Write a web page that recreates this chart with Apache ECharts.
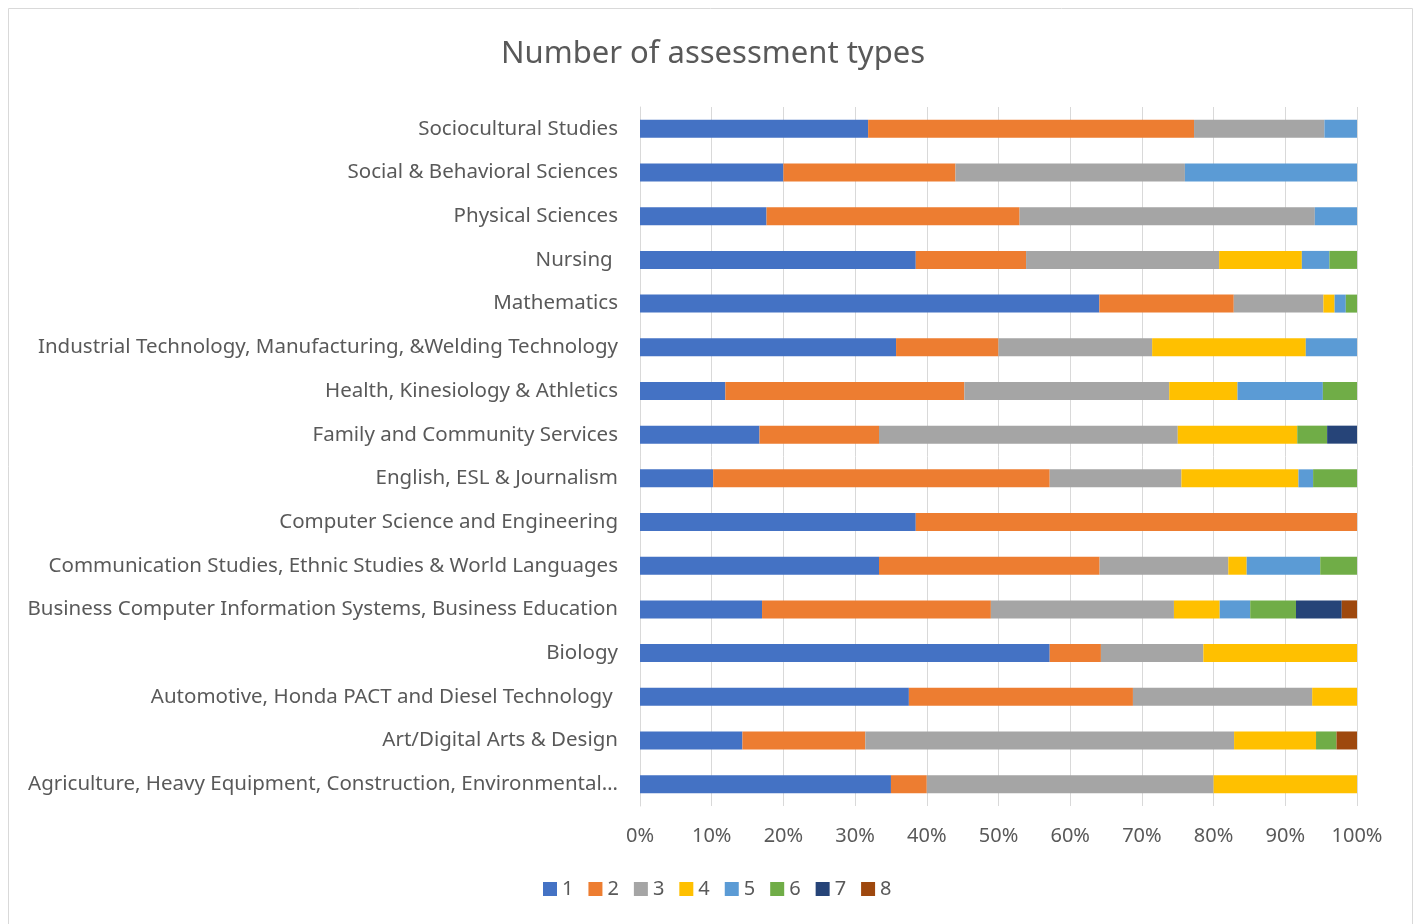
<!DOCTYPE html>
<html>
<head>
<meta charset="utf-8">
<title>Number of assessment types</title>
<script src="https://cdn.jsdelivr.net/npm/echarts@6/dist/echarts.min.js"></script>
<style>
  html, body { margin: 0; padding: 0; background: #fff; }
  #main { width: 1416px; height: 924px; }
</style>
</head>
<body>
<div id="main"></div>
<script>
// categories, bottom to top (as the value axis draws them)
const categories = [
  'Agriculture, Heavy Equipment, Construction, Environmental…',
  'Art/Digital Arts & Design',
  'Automotive, Honda PACT and Diesel Technology ',
  'Biology',
  'Business Computer Information Systems, Business Education',
  'Communication Studies, Ethnic Studies & World Languages',
  'Computer Science and Engineering',
  'English, ESL & Journalism',
  'Family and Community Services',
  'Health, Kinesiology & Athletics',
  'Industrial Technology, Manufacturing, &Welding Technology',
  'Mathematics',
  'Nursing ',
  'Physical Sciences',
  'Social & Behavioral Sciences',
  'Sociocultural Studies'
];

// counts per assessment-type count (1..8), same order as categories
const s1 = [7, 5, 6, 8, 8, 13, 5, 5, 4, 5, 5, 41, 10, 3, 5, 7];
const s2 = [1, 6, 5, 1, 15, 12, 8, 23, 4, 14, 2, 12, 4, 6, 6, 10];
const s3 = [8, 18, 4, 2, 12, 7, 0, 9, 10, 12, 3, 8, 7, 7, 8, 4];
const s4 = [4, 4, 1, 3, 3, 1, 0, 8, 4, 4, 3, 1, 3, 0, 0, 0];
const s5 = [0, 0, 0, 0, 2, 4, 0, 1, 0, 5, 1, 1, 1, 1, 6, 1];
const s6 = [0, 1, 0, 0, 3, 2, 0, 3, 1, 2, 0, 1, 1, 0, 0, 0];
const s7 = [0, 0, 0, 0, 3, 0, 0, 0, 1, 0, 0, 0, 0, 0, 0, 0];
const s8 = [0, 1, 0, 0, 1, 0, 0, 0, 0, 0, 0, 0, 0, 0, 0, 0];

const seriesNames = ['1', '2', '3', '4', '5', '6', '7', '8'];
const colors = ['#4472C4', '#ED7D31', '#A5A5A5', '#FFC000', '#5B9BD5', '#70AD47', '#264478', '#9E480E'];

const allSeries = [s1, s2, s3, s4, s5, s6, s7, s8];
// 100% stacked: share of each row total
const totals = categories.map((c, i) => allSeries.reduce((sum, s) => sum + s[i], 0));

const FONT = 'Noto Sans';
const TEXT = '#595959';

let myChart = echarts.init(document.getElementById('main'));
let option = {
  animation: false,
  color: colors,
  textStyle: { fontFamily: FONT },
  title: {
    text: 'Number of assessment types',
    left: 708,
    textAlign: 'center',
    top: 34,
    textStyle: { fontFamily: FONT, fontSize: 31, fontWeight: 'normal', color: TEXT }
  },
  graphic: [{
    type: 'rect',
    shape: { x: 8.5, y: 8.5, width: 1404, height: 950 },
    style: { fill: 'none', stroke: '#d9d9d9', lineWidth: 1 },
    silent: true
  }],
  legend: {
    data: seriesNames,
    left: 538,
    top: 874,
    itemWidth: 14,
    itemHeight: 14,
    itemGap: 15,
    icon: 'rect',
    textStyle: { fontFamily: FONT, fontSize: 20, color: TEXT }
  },
  grid: { left: 640, right: 59, top: 107, bottom: 118 },
  xAxis: {
    type: 'value',
    min: 0,
    max: 100,
    interval: 10,
    axisLabel: {
      formatter: '{value}%',
      fontFamily: FONT,
      fontSize: 20,
      color: TEXT,
      margin: 20
    },
    splitLine: { lineStyle: { color: '#d9d9d9', width: 1 } },
    axisLine: { show: false },
    axisTick: { show: false }
  },
  yAxis: {
    type: 'category',
    data: categories,
    axisLabel: { fontFamily: FONT, fontSize: 20.5, color: TEXT, margin: 22 },
    axisLine: { show: true, lineStyle: { color: '#d9d9d9' } },
    axisTick: { show: false }
  },
  series: allSeries.map((s, k) => ({
    name: seriesNames[k],
    type: 'bar',
    stack: 'total',
    barWidth: 18,
    data: s.map((v, i) => v / totals[i] * 100)
  }))
};
myChart.setOption(option);
</script>
</body>
</html>
